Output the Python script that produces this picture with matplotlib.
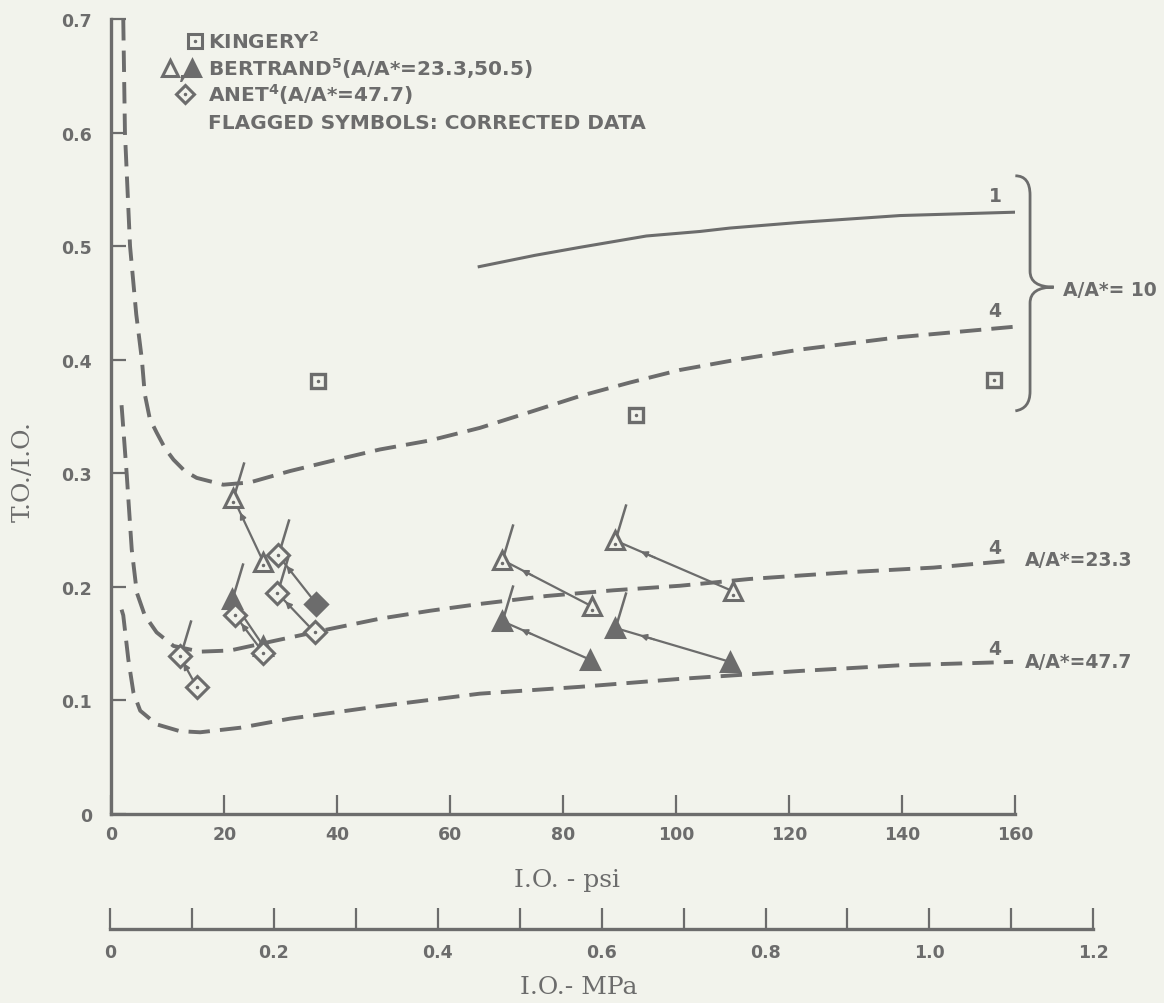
import matplotlib
matplotlib.use('Agg')
import matplotlib.pyplot as plt
from matplotlib.path import Path
from matplotlib.patches import PathPatch

# ---- theory curves (I.O. psi, T.O./I.O.) ----
c1_x = [65.1, 75.0, 82.9, 94.7, 104.2, 109.5, 121.9, 139.6, 160.2]
c1_y = [0.482, 0.492, 0.499, 0.509, 0.513, 0.516, 0.521, 0.527, 0.530]

c10_x = [2.1, 2.4, 3.3, 4.4, 5.4, 5.9, 6.8, 8.0, 9.5, 11.0, 13.0, 15.1, 19.8, 24.5,
         31.6, 39.0, 47.5, 56.4, 65.2, 74.1, 82.9, 91.8, 100.6, 109.5, 121.9, 139.6, 159.6]
c10_y = [0.700, 0.600, 0.500, 0.440, 0.400, 0.370, 0.348, 0.336, 0.322, 0.312, 0.302,
         0.296, 0.290, 0.292, 0.302, 0.311, 0.321, 0.329, 0.340, 0.354, 0.368, 0.380,
         0.391, 0.399, 0.409, 0.420, 0.429]

c23_x = [1.8, 2.1, 2.7, 3.6, 4.5, 5.9, 8.0, 11.0, 15.7, 21.0, 29.3, 38.7, 47.5,
         56.4, 65.2, 77.0, 88.8, 100.6, 113.0, 130.7, 145.5, 159.0]
c23_y = [0.360, 0.340, 0.300, 0.233, 0.195, 0.175, 0.160, 0.148, 0.143, 0.144, 0.153,
         0.163, 0.172, 0.179, 0.185, 0.192, 0.197, 0.201, 0.207, 0.213, 0.217, 0.223]

c47_x = [1.8, 2.1, 3.0, 3.9, 5.1, 8.0, 12.1, 15.7, 22.8, 31.6, 47.5, 65.2, 82.9,
         100.6, 121.9, 139.6, 159.6]
c47_y = [0.180, 0.175, 0.136, 0.107, 0.091, 0.079, 0.073, 0.072, 0.076, 0.084,
         0.095, 0.106, 0.112, 0.119, 0.126, 0.131, 0.134]

# ---- data points ----
kingery_x = [36.6, 92.8, 156.3]
kingery_y = [0.381, 0.351, 0.382]

# corrected (flagged) point -> original point
bert_open_x = [21.6, 69.1, 89.1]
bert_open_y = [0.278, 0.224, 0.241]
bert_open_x0 = [26.9, 85.0, 110.1]
bert_open_y0 = [0.222, 0.183, 0.196]

bert_fill_x = [21.3, 69.1, 89.1]
bert_fill_y = [0.189, 0.170, 0.164]
bert_fill_x0 = [26.9, 84.7, 109.5]
bert_fill_y0 = [0.148, 0.136, 0.134]

anet_x = [29.5, 29.3, 21.9, 12.1]
anet_y = [0.228, 0.195, 0.175, 0.139]
anet_x0 = [36.3, 36.0, 26.9, 15.1]
anet_y0 = [0.185, 0.160, 0.142, 0.112]
anet_flag = [True, True, False, True]
anet_fill0 = [True, False, False, False]

psi_ticks = [0, 20, 40, 60, 80, 100, 120, 140, 160]
ratio_ticks = [0, 0.1, 0.2, 0.3, 0.4, 0.5, 0.6, 0.7]
ratio_labels = ['0', '0.1', '0.2', '0.3', '0.4', '0.5', '0.6', '0.7']
mpa_ticks = [0, 0.1, 0.2, 0.3, 0.4, 0.5, 0.6, 0.7, 0.8, 0.9, 1.0, 1.1, 1.2]
mpa_labels = ['0', '', '0.2', '', '0.4', '', '0.6', '', '0.8', '', '1.0', '', '1.2']
PSI_PER_MPA = 145.04

bg = '#f2f3ec'
ink = '#6c6c6c'
plt.rcParams['font.family'] = 'DejaVu Sans'
plt.rcParams['font.weight'] = 'bold'
plt.rcParams['mathtext.fontset'] = 'dejavusans'

fig = plt.figure(figsize=(11.64, 10.04), dpi=100, facecolor=bg)
ax = fig.add_axes([0.0957, 0.1882, 0.7766, 0.7918])
ax.set_facecolor(bg)
ax.set_xlim(0, 160)
ax.set_ylim(0, 0.7)
for s in ['top', 'right']:
    ax.spines[s].set_visible(False)
for s in ['left', 'bottom']:
    ax.spines[s].set_color(ink)
    ax.spines[s].set_linewidth(2.4)
ax.set_xticks(psi_ticks)
ax.set_xticklabels([str(t) for t in psi_ticks])
ax.set_yticks(ratio_ticks)
ax.set_yticklabels(ratio_labels)
ax.tick_params(axis='x', direction='in', length=14, width=1.6, color=ink,
               labelsize=12.5, labelcolor=ink, pad=8)
ax.tick_params(axis='y', direction='in', length=11, width=1.6, color=ink,
               labelsize=12.5, labelcolor=ink, pad=14)

# curves
dash = dict(color=ink, lw=2.8, dashes=[5.5, 2.6], solid_capstyle='round', zorder=2)
ax.plot(c10_x, c10_y, **dash)
ax.plot(c23_x, c23_y, **dash)
ax.plot(c47_x, c47_y, **dash)
ax.plot(c1_x, c1_y, color=ink, lw=2.2, zorder=2)

flag = [(0, 0), (0.3, 1)]


def pairs(xs, ys, x0s, y0s, marker, fill, flags, fill0=None):
    for i in range(len(xs)):
        x, y, x0, y0 = xs[i], ys[i], x0s[i], y0s[i]
        ax.plot([x, x0], [y, y0], color=ink, lw=1.6, zorder=2)
        ax.annotate('', xy=(x + 0.22 * (x0 - x), y + 0.22 * (y0 - y)),
                    xytext=(x + 0.34 * (x0 - x), y + 0.34 * (y0 - y)),
                    arrowprops=dict(arrowstyle='-|>', color=ink, lw=1.4,
                                    mutation_scale=9, shrinkA=0, shrinkB=0), zorder=3)
        if flags[i]:
            ax.plot(x, y, marker=flag, markersize=52, color=ink, mew=1.8, zorder=3)
        f0 = fill if fill0 is None else (fill0[i] or fill)
        for px, py, f in [(x, y, fill), (x0, y0, f0)]:
            ax.plot(px, py, marker=marker, markersize=13 if marker == '^' else 11,
                    mfc=ink if f else bg, mec=ink, mew=2.2, zorder=4)
            if not f:
                ax.plot(px, py - (0.003 if marker == '^' else 0), marker='.',
                        markersize=3, color=ink, zorder=5)


pairs(bert_open_x, bert_open_y, bert_open_x0, bert_open_y0, '^', False, [True] * 3)
pairs(bert_fill_x, bert_fill_y, bert_fill_x0, bert_fill_y0, '^', True, [True] * 3)
pairs(anet_x, anet_y, anet_x0, anet_y0, 'D', False, anet_flag, anet_fill0)

ax.plot(kingery_x, kingery_y, ls='none', marker='s', markersize=10, mfc=bg,
        mec=ink, mew=2.4, zorder=4, clip_on=False)
ax.plot(kingery_x, kingery_y, ls='none', marker='.', markersize=3, color=ink,
        zorder=5, clip_on=False)

# legend block
tk = dict(color=ink, fontsize=14.5, fontweight='bold', va='center', ha='left')
ax.plot(14.8, 0.681, marker='s', markersize=10, mfc=bg, mec=ink, mew=2.2, clip_on=False)
ax.plot(14.8, 0.681, marker='.', markersize=3, color=ink, clip_on=False)
ax.text(17.1, 0.681, r'KINGERY$^{\mathbf{2}}$', **tk)
ax.plot(10.4, 0.657, marker='^', markersize=11, mfc=bg, mec=ink, mew=2.2, clip_on=False)
ax.text(11.9, 0.653, ',', **tk)
ax.plot(14.2, 0.657, marker='^', markersize=11, mfc=ink, mec=ink, mew=2.2, clip_on=False)
ax.text(17.1, 0.657, r'BERTRAND$^{\mathbf{5}}$(A/A*=23.3,50.5)', **tk)
ax.plot(13.0, 0.634, marker='D', markersize=9, mfc=bg, mec=ink, mew=2.2, clip_on=False)
ax.plot(13.0, 0.634, marker='.', markersize=3, color=ink, clip_on=False)
ax.text(17.1, 0.634, r'ANET$^{\mathbf{4}}$(A/A*=47.7)', **tk)
ax.text(17.1, 0.609, 'FLAGGED SYMBOLS: CORRECTED DATA', **tk)

# curve labels
lk = dict(color=ink, fontsize=13.5, fontweight='bold', va='center', ha='center')
ax.text(156.4, 0.545, '1', **lk)
ax.text(156.4, 0.443, '4', **lk)
ax.text(156.4, 0.235, '4', **lk)
ax.text(156.4, 0.146, '4', **lk)
rk = dict(color=ink, fontsize=13.5, fontweight='bold', va='center', ha='left')
ax.text(168.5, 0.462, 'A/A*= 10', **rk)
ax.text(161.7, 0.224, 'A/A*=23.3', **rk)
ax.text(161.7, 0.134, 'A/A*=47.7', **rk)

# brace for A/A* = 10
bv = [(160.0, 0.562), (162.6, 0.562), (162.6, 0.545), (162.6, 0.478),
      (162.6, 0.464), (166.8, 0.464), (162.6, 0.464), (162.6, 0.450),
      (162.6, 0.372), (162.6, 0.357), (160.0, 0.355)]
bc = [Path.MOVETO, Path.CURVE3, Path.CURVE3, Path.LINETO,
      Path.CURVE3, Path.CURVE3, Path.CURVE3, Path.CURVE3,
      Path.LINETO, Path.CURVE3, Path.CURVE3]
ax.add_patch(PathPatch(Path(bv, bc), fill=False, ec=ink, lw=2.0, clip_on=False))

# axis titles
fig.text(0.487, 0.123, 'I.O. - psi', family='DejaVu Serif', fontsize=18,
         color=ink, ha='center', va='center', fontweight='normal')
fig.text(0.020, 0.530, 'T.O./I.O.', family='DejaVu Serif', fontsize=18,
         color=ink, ha='center', va='center', rotation=90, fontweight='normal')

# MPa scale
px_per_psi = 0.7766 * 1164 / 160.0
w = 1.2 * PSI_PER_MPA * px_per_psi / 1164
ax2 = fig.add_axes([0.0945, (1004 - 930) / 1004, w, 0.0005])
ax2.set_facecolor('none')
ax2.set_xlim(0, 1.2)
ax2.set_yticks([])
for s in ['top', 'right', 'left']:
    ax2.spines[s].set_visible(False)
ax2.spines['bottom'].set_color(ink)
ax2.spines['bottom'].set_linewidth(2.4)
ax2.set_xticks(mpa_ticks)
ax2.set_xticklabels(mpa_labels)
ax2.tick_params(axis='x', direction='in', length=15, width=1.6, color=ink,
                labelsize=12.5, labelcolor=ink, pad=10)
fig.text(0.497, 0.016, 'I.O.- MPa', family='DejaVu Serif', fontsize=18,
         color=ink, ha='center', va='center', fontweight='normal')

fig.savefig('out.png', dpi=100, facecolor=bg)
